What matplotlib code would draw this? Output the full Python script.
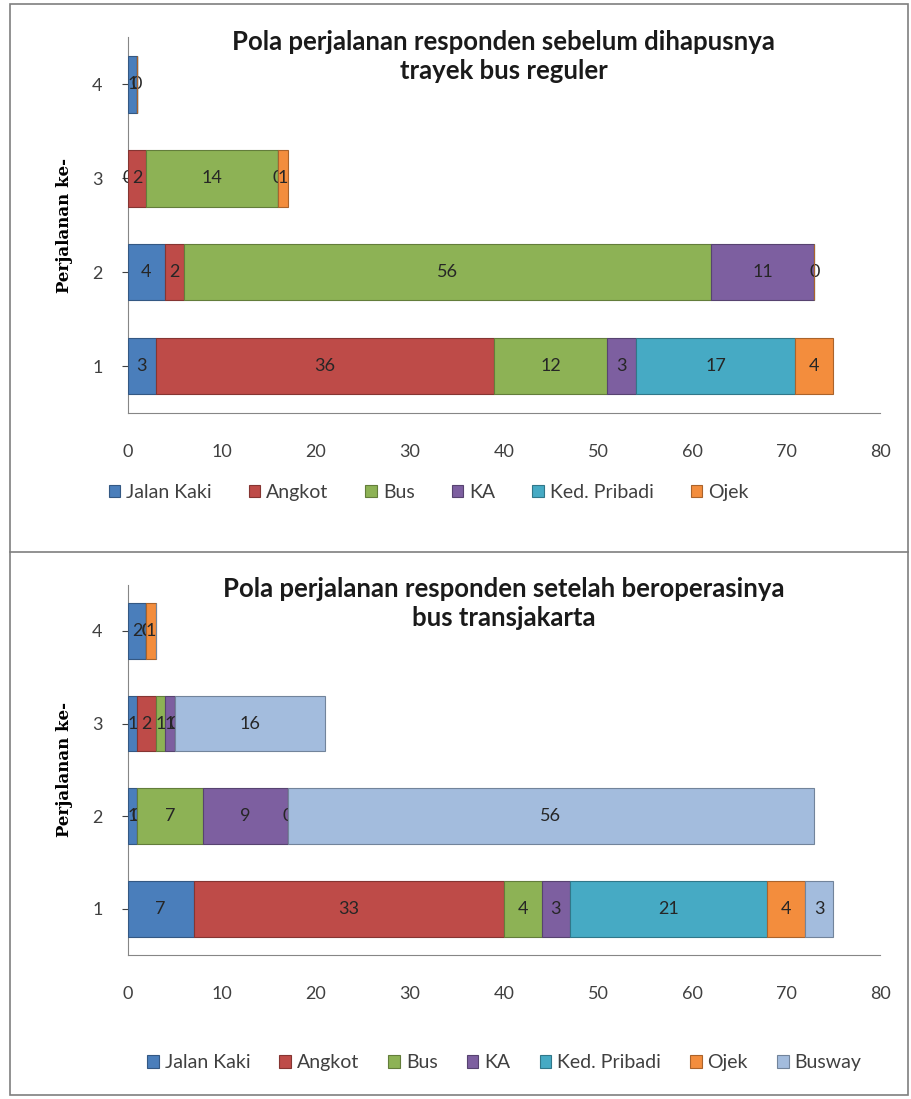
import numpy as np
import matplotlib.pyplot as plt
from matplotlib.lines import Line2D
from matplotlib.patches import Rectangle
from matplotlib.colors import to_rgb

plt.rcParams['font.family'] = ['Lato', 'DejaVu Sans']

rows = ['1', '2', '3', '4']
nan = np.nan

# sebelum (before) - blank cells are nan, shown zeros are 0
before_jalan_kaki = [3, 4, 0, 1]
before_angkot = [36, 2, 2, 0]
before_bus = [12, 56, 14, nan]
before_ka = [3, 11, 0, nan]
before_ked_pribadi = [17, 0, nan, nan]
before_ojek = [4, nan, 1, nan]

# setelah (after)
after_jalan_kaki = [7, 1, 1, 2]
after_angkot = [33, 0, 2, 0]
after_bus = [4, 7, 1, 0]
after_ka = [3, 9, 1, nan]
after_ked_pribadi = [21, 0, 0, nan]
after_ojek = [4, nan, nan, 1]
after_busway = [3, 56, 16, nan]

names = ['Jalan Kaki', 'Angkot', 'Bus', 'KA', 'Ked. Pribadi', 'Ojek', 'Busway']
colors = ['#4A7EBB', '#BE4B48', '#8DB255', '#7D5FA0', '#46AAC4', '#F38D3D', '#A3BCDD']

title_top = 'Pola perjalanan responden sebelum dihapusnya\ntrayek bus reguler'
title_bottom = 'Pola perjalanan responden setelah beroperasinya\nbus transjakarta'


def darker(c, f=0.7):
    r, g, b = to_rgb(c)
    return (r * f, g * f, b * f)


def stacked(ax, series, title):
    y = np.arange(len(rows))
    left = np.zeros(len(rows))
    for i, vals in enumerate(series):
        vals = np.array(vals, dtype=float)
        w = np.nan_to_num(vals)
        bars = ax.barh(y, w, left=left, height=0.6, color=colors[i],
                       edgecolor=darker(colors[i]), linewidth=0.8,
                       label=names[i], zorder=3)
        labels = ['' if np.isnan(v) else '%d' % v for v in vals]
        ax.bar_label(bars, labels=labels, label_type='center',
                     fontsize=13, color='#262626')
        left += w
    ax.set_xlim(0, 80)
    ax.set_ylim(-0.5, 3.5)
    ax.set_xticks(range(0, 81, 10))
    ax.set_yticks(y)
    ax.set_yticklabels(rows)
    ax.tick_params(axis='x', length=0, labelsize=13, colors='#404040', pad=22)
    ax.tick_params(axis='y', length=4, labelsize=13, colors='#404040', pad=14)
    for s in ['top', 'right']:
        ax.spines[s].set_visible(False)
    for s in ['left', 'bottom']:
        ax.spines[s].set_color('#868686')
    ax.set_ylabel('Perjalanan ke-', family='DejaVu Serif', fontweight='bold',
                  fontsize=12, labelpad=14)
    ax.text(0.5, 1.02, title, transform=ax.transAxes, ha='center', va='top',
            fontsize=18.5, fontweight='bold', linespacing=1.25, color='#1a1a1a',
            zorder=5)


fig = plt.figure(figsize=(9.12, 10.99), dpi=100)

ax1 = fig.add_axes([0.140, 0.624, 0.825, 0.342])
stacked(ax1, [before_jalan_kaki, before_angkot, before_bus, before_ka,
              before_ked_pribadi, before_ojek], title_top)
ax1.legend(loc='center', bbox_to_anchor=(0.47, 0.552), bbox_transform=fig.transFigure,
           ncol=6, frameon=False, fontsize=14, handlelength=0.6, handleheight=0.6,
           handletextpad=0.3, columnspacing=1.9, labelcolor='#404040')

ax2 = fig.add_axes([0.140, 0.131, 0.825, 0.337])
stacked(ax2, [after_jalan_kaki, after_angkot, after_bus, after_ka,
              after_ked_pribadi, after_ojek, after_busway], title_bottom)
ax2.legend(loc='center', bbox_to_anchor=(0.553, 0.033), bbox_transform=fig.transFigure,
           ncol=7, frameon=False, fontsize=14, handlelength=0.6, handleheight=0.6,
           handletextpad=0.3, columnspacing=1.5, labelcolor='#404040')

# outer frame and divider
fig.add_artist(Rectangle((0.011, 0.004), 0.985, 0.992, transform=fig.transFigure,
                         fill=False, edgecolor='#7f7f7f', linewidth=1.2))
fig.add_artist(Line2D([0.011, 0.996], [0.498, 0.498], transform=fig.transFigure,
                      color='#7f7f7f', linewidth=1.2))

fig.savefig('out.png', dpi=100)
